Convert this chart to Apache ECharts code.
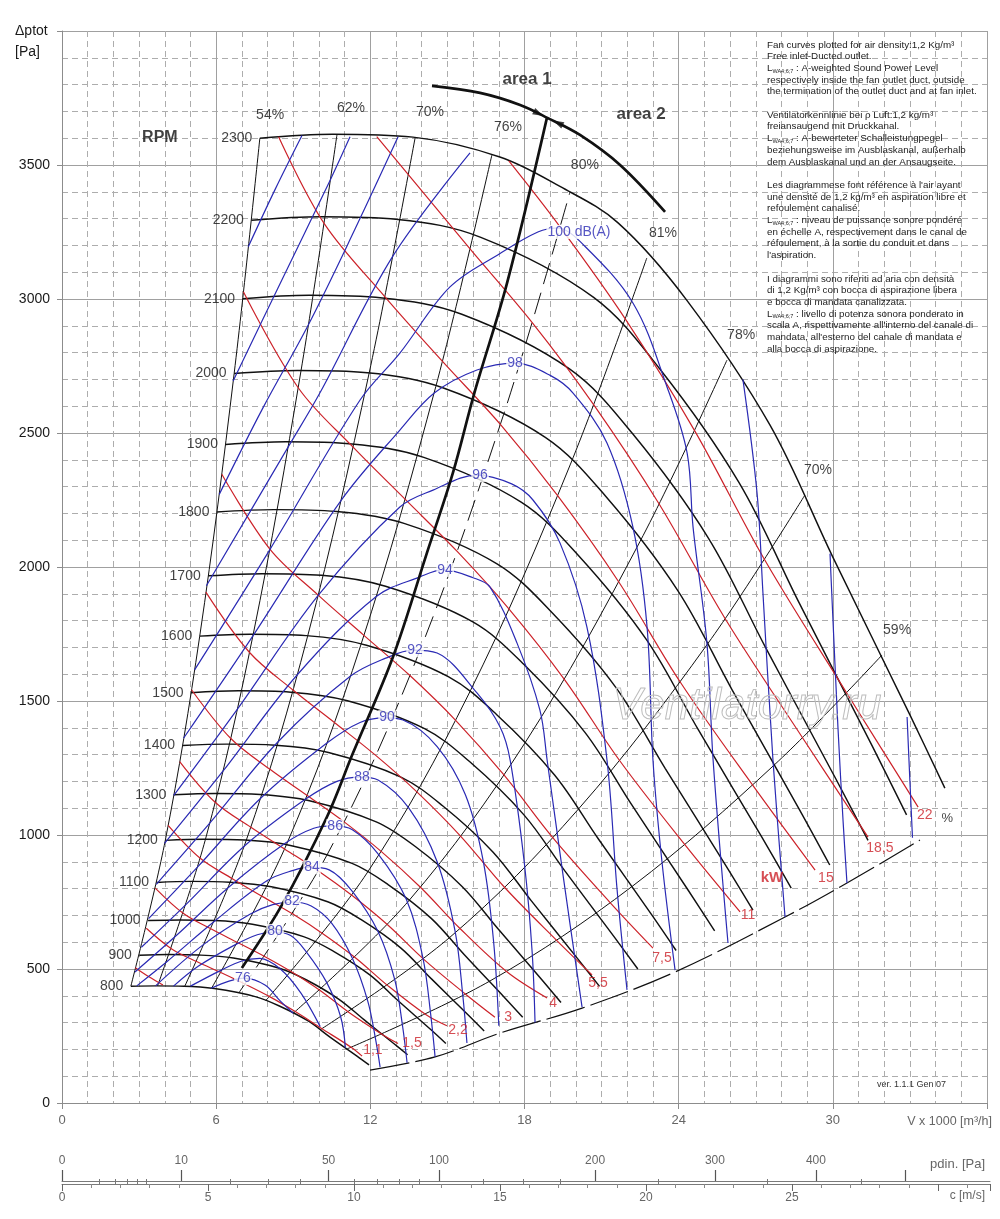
<!DOCTYPE html>
<html><head><meta charset="utf-8">
<script src="https://cdn.jsdelivr.net/npm/echarts@6/dist/echarts.min.js"></script>
<style>html,body{margin:0;padding:0;background:#fff}#c{width:1000px;height:1219px}</style>
</head><body><div id="c"></div><script>
// ---------- axis / scale data ----------
const xTicksMax = 36, yTicksMax = 4000;
const RHO = 1.2;                       // air density for dynamic pressure scale
const C_MAX = 31.78;                   // c [m/s] at right end of bottom scale
const pdynMajor = [0,10,50,100,200,300,400,500];
const pdynLabels = [0,10,50,100,200,300,400];
const pdynMinor = [1,2,3,4,5,20,30,40,60,70,80,90,125,150,175,250,350,450];

// ---------- RPM curves (V x1000 m3/h, Pa) ----------
const rpmNames = [800,900,1000,1100,1200,1300,1400,1500,1600,1700,1800,1900,2000,2100,2200,2300];
const rpm800  = [[2.68,436],[3.67,437],[4.75,436],[5.93,427],[7.52,397],[8.46,362],[9.58,306],[10.43,246],[11.48,175],[11.95,142]];
const rpm900  = [[3.01,551],[4.12,554],[5.35,552],[6.67,541],[8.46,503],[9.52,459],[10.78,387],[11.74,312],[12.91,222],[13.45,180]];
const rpm1000 = [[3.35,681],[4.58,683],[5.94,681],[7.41,667],[9.40,621],[10.57,566],[11.98,478],[13.04,385],[14.35,274],[14.94,222]];
const rpm1100 = [[3.68,823],[5.04,827],[6.53,824],[8.15,807],[10.34,751],[11.63,685],[13.18,579],[14.35,466],[15.78,331],[16.43,269]];
const rpm1200 = [[4.02,980],[5.50,984],[7.13,981],[8.89,961],[11.29,894],[12.69,815],[14.37,689],[15.65,554],[17.22,394],[17.93,320]];
const rpm1300 = [[4.35,1150],[5.96,1155],[7.72,1151],[9.63,1128],[12.23,1049],[13.75,957],[15.57,808],[16.96,651],[18.65,463],[19.42,375]];
const rpm1400 = [[4.69,1334],[6.42,1339],[8.31,1335],[10.37,1308],[13.17,1217],[14.80,1110],[16.77,937],[18.26,755],[20.09,536],[20.92,435]];
const rpm1500 = [[5.02,1531],[6.87,1538],[8.91,1533],[11.11,1501],[14.11,1397],[15.86,1274],[17.97,1076],[19.57,866],[21.52,616],[22.41,500]];
const rpm1600 = [[5.36,1742],[7.33,1749],[9.50,1744],[11.85,1708],[15.05,1590],[16.92,1449],[19.17,1224],[20.87,986],[22.96,701],[23.90,569]];
const rpm1700 = [[5.69,1967],[7.79,1975],[10.10,1969],[12.59,1928],[15.99,1795],[17.98,1636],[20.36,1382],[22.17,1113],[24.39,791],[25.40,642]];
const rpm1800 = [[6.03,2205],[8.25,2214],[10.69,2207],[13.34,2162],[16.93,2012],[19.03,1834],[21.56,1550],[23.48,1248],[25.83,887],[26.89,720]];
const rpm1900 = [[6.36,2457],[8.71,2467],[11.28,2459],[14.08,2409],[17.87,2242],[20.09,2044],[22.76,1727],[24.78,1390],[27.26,988],[28.38,802]];
const rpm2000 = [[6.70,2722],[9.17,2733],[11.88,2725],[14.82,2669],[18.81,2484],[21.15,2265],[23.96,1913],[26.09,1540],[28.70,1095],[29.88,888]];
const rpm2100 = [[7.03,3001],[9.62,3014],[12.47,3004],[15.56,2943],[19.75,2739],[22.21,2497],[25.15,2109],[27.39,1698],[30.13,1207],[31.37,980]];
const rpm2200 = [[7.37,3294],[10.08,3307],[13.07,3297],[16.30,3230],[20.69,3006],[23.26,2740],[26.35,2315],[28.70,1864],[31.57,1325],[32.87,1075]];
const rpm2300 = [[7.70,3600],[10.54,3615],[13.66,3604],[17.04,3530],[19.38,3420],[21.63,3285],[24.32,2995],[27.55,2530],[30.0,2037],[33.0,1448],[34.36,1175]];

// ---------- efficiency parabolas ----------
const eff54  = [[2.68,436],[4.02,980],[5.36,1742],[6.70,2722],[7.70,3600]];
const eff62  = [[3.72,437],[5.58,983],[7.44,1748],[9.30,2731],[10.70,3612]];
const eff70a = [[4.78,436],[7.17,980],[9.56,1742],[11.95,2722],[13.74,3600]];
const eff76  = [[5.82,428],[8.73,963],[11.64,1712],[14.55,2674],[16.73,3537]];
const eff80  = [[6.88,411],[10.31,925],[13.75,1645],[17.19,2570],[19.77,3399]];
const eff81  = [[7.92,381],[11.87,858],[15.83,1526],[19.79,2384],[22.76,3153]];
const eff78  = [[9.00,335],[13.50,755],[18.00,1341],[22.50,2096],[25.88,2772]];
const eff70b = [[10.06,274],[15.08,617],[20.11,1098],[25.14,1715],[28.91,2268]];
const eff59  = [[11.10,202],[16.65,455],[22.20,809],[27.75,1264],[31.91,1671]];

// ---------- area boundary, arc, max-flow boundary ----------
const areaLine = [[7.0,504],[8.56,739],[10.31,1067],[11.3,1300],[12.88,1664],[14.2,2052],[15.21,2350],[16.05,2650],[17.32,3059],[18.87,3675]];
const areaArc  = [[14.40,3795],[16.27,3769],[17.83,3724],[18.91,3675],[20.16,3612],[21.72,3500],[23.47,3325]];
const maxFlow  = [[11.99,123],[14.52,172],[17.05,261],[20.24,354],[23.86,489],[28.14,694],[30.55,821],[33.39,981]];

// ---------- power lines (kW) ----------
const kw075 = [[2.85,505],[3.4,470],[3.93,440]];
const kw11  = [[3.28,652],[4.27,575],[5.26,527],[6.20,486],[7.14,443],[8.08,397],[9.08,341],[10.07,280],[11.25,208],[11.68,175]];
const kw15  = [[3.63,802],[4.73,707],[5.83,648],[6.87,597],[7.92,545],[8.96,488],[10.06,419],[11.17,338],[12.48,255],[13.08,222]];
const kw22  = [[4.13,1036],[5.38,913],[6.63,837],[7.81,770],[9.00,704],[10.18,630],[11.43,541],[12.69,437],[14.17,329],[14.98,288]];
const kw3   = [[4.58,1274],[5.96,1122],[7.35,1029],[8.66,948],[9.98,866],[11.28,775],[12.67,665],[14.07,537],[15.72,405],[16.85,320]];
const kw4   = [[5.04,1542],[6.57,1360],[8.08,1246],[9.53,1148],[10.98,1049],[12.42,939],[13.95,805],[15.49,651],[17.30,491],[18.88,392]];
const kw55  = [[5.60,1906],[7.30,1681],[8.99,1541],[10.60,1420],[12.21,1297],[13.81,1161],[15.51,996],[17.22,805],[19.24,608],[20.63,478]];
const kw75  = [[6.22,2346],[8.09,2067],[9.97,1895],[11.75,1745],[13.54,1595],[15.32,1428],[17.20,1224],[19.10,990],[21.34,747],[23.0,578]];
const kw110 = [[7.06,3027],[9.20,2668],[11.33,2447],[13.35,2253],[15.38,2058],[17.40,1843],[19.55,1581],[21.70,1278],[24.24,964],[26.39,713]];
const kw150 = [[8.43,3605],[10.20,3282],[12.56,3009],[14.80,2768],[17.06,2532],[19.29,2266],[21.67,1944],[24.06,1571],[26.88,1186],[29.31,869]];
const kw185 = [[12.25,3606],[15.88,3187],[18.30,2912],[20.69,2606],[23.24,2235],[25.81,1807],[28.82,1363],[31.37,992]];
const kw220 = [[17.39,3515],[19.39,3268],[21.92,2926],[24.62,2509],[27.34,2028],[30.54,1530],[33.32,1104]];

// ---------- sound power curves dB(A) ----------
const db76  = [[5.8,428],[6.5,455],[7.1,466],[7.9,440],[8.5,380],[9.0,335]];
const db78  = [[5.0,436],[6.18,495],[7.0,530],[7.7,540],[8.5,500],[9.3,410],[10.05,285]];
const db80  = [[4.34,436],[5.3,510],[6.73,590],[7.6,628],[8.21,638],[8.9,625],[9.5,565],[10.3,450],[10.85,320],[11.03,206]];
const db82  = [[3.64,437],[5.49,590],[7.33,705],[8.2,740],[8.95,750],[9.7,735],[10.5,670],[11.3,540],[11.9,380],[12.2,240],[12.38,134]];
const db84  = [[2.91,437],[4.09,528],[5.97,681],[7.99,830],[9.0,868],[9.65,880],[10.4,870],[11.3,790],[12.3,640],[12.95,460],[13.25,290],[13.43,150]];
const db86  = [[2.84,489],[4.46,626],[6.51,807],[8.70,970],[9.8,1025],[10.55,1034],[11.3,1020],[12.3,930],[13.4,760],[14.05,540],[14.35,330],[14.52,172]];
const db88  = [[3.09,581],[4.85,743],[7.09,958],[9.47,1133],[10.7,1200],[11.6,1216],[12.3,1205],[13.5,1100],[14.6,900],[15.3,640],[15.6,400],[15.76,224]];
const db90  = [[3.37,688],[5.28,881],[7.72,1136],[10.31,1343],[11.6,1420],[12.57,1437],[13.27,1429],[14.6,1330],[15.7,1150],[16.4,900],[16.8,600],[17.0,288]];
const db92  = [[3.67,816],[5.75,1044],[8.40,1347],[11.23,1593],[12.6,1660],[13.66,1690],[14.6,1679],[16.15,1530],[17.05,1403],[17.44,1280],[18.0,890],[18.3,560],[18.41,300]];
const db94  = [[3.99,969],[6.27,1239],[9.15,1597],[12.23,1890],[13.93,1963],[14.83,1989],[16.0,1960],[16.66,1925],[17.71,1716],[18.6,1466],[18.88,1280],[19.5,850],[20.24,358]];
const db96  = [[4.35,1148],[6.82,1469],[9.97,1894],[13.15,2224],[14.44,2287],[16.15,2343],[17.5,2310],[18.33,2250],[19.38,2090],[20.43,1776],[21.21,1280],[21.6,800],[21.99,422]];
const db98  = [[4.73,1361],[7.43,1743],[10.85,2247],[13.15,2511],[14.5,2650],[16.15,2735],[17.63,2761],[19.0,2715],[19.89,2649],[21.21,2463],[22.22,2149],[22.77,1776],[23.0,1280],[23.35,900],[23.86,496]];
const db100 = [[5.16,1616],[8.09,2065],[11.6,2623],[13.15,2798],[15.1,3045],[17.05,3170],[18.52,3250],[19.3,3265],[20.16,3215],[22.22,2985],[23.55,2671],[24.33,2425],[24.56,2149],[25.1,1716],[25.34,1280],[25.92,597]];
const db102L = [[5.62,1930],[8.81,2449],[10.04,2650],[12.87,3159],[15.88,3545]];
const db102R = [[26.5,2700],[27.05,2276],[27.28,1903],[27.67,1280],[28.14,694]];
const db104L = [[6.12,2271],[7.8,2590],[9.60,2906],[11.4,3260],[13.08,3605]];
const db104R = [[29.89,2050],[29.97,1877],[30.2,1400],[30.4,1050],[30.55,821]];
const db106L = [[6.66,2694],[8.5,3060],[10.45,3446],[11.21,3605]];
const db106R = [[32.89,1440],[33.0,1200],[33.1,990]];
const db108L = [[7.25,3195],[8.3,3410],[9.34,3610]];

// ---------- labels ----------
const rpmLabelPts = [[2.68,436],[3.01,551],[3.35,681],[3.68,823],[4.02,980],[4.35,1150],[4.69,1334],[5.02,1531],[5.36,1742],[5.69,1967],[6.03,2205],[6.36,2457],[6.70,2722],[7.03,3001],[7.37,3294],[7.70,3600]];
const effLabels = [[8.1,3686,'54%'],[11.25,3713,'62%'],[14.32,3698,'70%'],[17.36,3642,'76%'],[20.35,3500,'80%'],[23.39,3246,'81%'],[26.43,2866,'78%'],[29.42,2362,'70%'],[32.5,1765,'59%']];
const kwLabels = [[12.1,198,'1,1'],[13.62,224,'1,5'],[15.41,272,'2,2'],[17.36,321,'3'],[19.11,373,'4'],[20.86,448,'5,5'],[23.35,541,'7,5'],[26.7,701,'11'],[29.73,839,'15'],[31.83,951,'18,5'],[33.58,1074,'22']];
const dbLabels = [[7.04,466,'76'],[8.29,642,'80'],[8.95,754,'82'],[9.73,880,'84'],[10.63,1033,'86'],[11.68,1216,'88'],[12.65,1440,'90'],[13.74,1690,'92'],[14.91,1989,'94'],[16.27,2343,'96'],[17.63,2761,'98'],[20.12,3250,'100 dB(A)']];

const noteLines = [
'Fan curves plotted for air density:1,2 Kg/m³',
'Free inlet-Ducted outlet.',
'L{s|WA4;6;7} : A-weighted Sound Power Level',
'respectively inside the fan outlet duct, outside',
'the termination of the outlet duct and at fan inlet.',
'',
'Ventilatorkennlinie bei ρ Luft:1,2 kg/m³',
'freiansaugend mit Druckkanal.',
'L{s|WA4;6;7} : A-bewerteter Schalleistungpegel',
'beziehungsweise im Ausblaskanal, außerhalb',
'dem Ausblaskanal und an der Ansaugseite.',
'',
'Les diagrammese font référence à l\'air ayant',
'une densité de 1,2 kg/m³ en aspiration libre et',
'refoulement canalisé.',
'L{s|WA4;6;7} : niveau de puissance sonore pondéré',
'en échelle A, respectivement dans le canal de',
'réfoulement, à la sortie du conduit et dans',
'l\'aspiration.',
'',
'I diagrammi sono riferiti ad aria con densità',
'di 1,2 Kg/m³ con bocca di aspirazione libera',
'e bocca di mandata canalizzata.',
'L{s|WA4;6;7} : livello di potenza sonora ponderato in',
'scala A, rispettivamente all\'interno del canale di',
'mandata, all\'esterno del canale di mandata e',
'alla bocca di aspirazione.'
];

// ---------- build ----------
const FONT = '"Liberation Sans", Arial, Helvetica, sans-serif';
const BLACK = '#111111', RED = '#cc2229', BLUE = '#2a2ab4';
const series = [];
function addLine(data, color, width, dash, z) {
  series.push({type:'line', data, xAxisIndex:0, yAxisIndex:0, symbol:'none', showSymbol:false,
    smooth:0.35, silent:true, animation:false, z: z || 2,
    lineStyle:{color, width, type: dash || 'solid'}});
}
function addLabels(items, color, size, opt) {
  opt = opt || {};
  series.push({type:'scatter', data: items, xAxisIndex:0, yAxisIndex:0, symbolSize:1,
    encode:{x:0, y:1}, itemStyle:{color:'rgba(0,0,0,0)'}, silent:true, animation:false, z: 20,
    label:{show:true, position: opt.position || 'inside', distance: opt.distance || 0,
      formatter: p => p.data[2], color, fontSize: size, fontWeight: opt.weight || 'normal',
      fontFamily: FONT, backgroundColor: opt.bg || 'transparent', padding: opt.bg ? [0,1] : 0}});
}

[rpm800,rpm900,rpm1000,rpm1100,rpm1200,rpm1300,rpm1400,rpm1500,rpm1600,rpm1700,rpm1800,rpm1900,rpm2000,rpm2100,rpm2200,rpm2300]
  .forEach(d => addLine(d, BLACK, 1.45, 'solid', 3));
[eff54,eff62,eff70a,eff76,eff81,eff78,eff70b,eff59].forEach(d => addLine(d, BLACK, 1.0, 'solid', 3));
addLine(eff80, BLACK, 1.0, [22,9], 3);
addLine(maxFlow, BLACK, 1.2, [40,6], 3);
[kw075,kw11,kw15,kw22,kw3,kw4,kw55,kw75,kw110,kw150,kw185,kw220].forEach(d => addLine(d, RED, 1.2, 'solid', 4));
[db76,db78,db80,db82,db84,db86,db88,db90,db92,db94,db96,db98,db100,db102L,db102R,db104L,db104R,db106L,db106R,db108L]
  .forEach(d => addLine(d, BLUE, 1.2, 'solid', 5));
addLine(areaLine, BLACK, 2.7, 'solid', 6);
addLine(areaArc, BLACK, 2.7, 'solid', 6);
// arrowheads on the arc
series.push({type:'scatter', xAxisIndex:0, yAxisIndex:0, silent:true, animation:false, z:7,
  data:[{value:[18.55,3692], symbolRotate:-116}, {value:[19.3,3657], symbolRotate:64}],
  symbol:'triangle', symbolSize:[7,11], itemStyle:{color:BLACK}});

addLabels(rpmLabelPts.map((p,i) => [p[0], p[1], String(rpmNames[i])]), '#111', 14, {position:'left', distance:7});
addLabels(effLabels, '#111', 14);
addLabels(kwLabels, RED, 14);
addLabels([[27.63,839,'kW']], RED, 15, {weight:'bold'});
addLabels([[34.45,1063,'%']], '#111', 13);
addLabels(dbLabels, BLUE, 14, {bg:'#ffffff'});
addLabels([[3.81,3604,'RPM']], '#111', 16, {weight:'bold'});
addLabels([[18.1,3818,'area 1'],[22.54,3690,'area 2']], '#111', 17, {weight:'bold'});

const cOf = p => Math.sqrt(2 * p / RHO);
const pdynText = v => { const hit = pdynLabels.find(p => Math.abs(cOf(p) - v) < 1e-6); return hit === undefined ? '' : String(hit); };

const gridLineMajor = {show:true, lineStyle:{color:'#a0a0a0', width:1}};
const gridLineMinor = {show:true, lineStyle:{color:'#adadad', width:1, type:[6,4]}};

const option = {
  backgroundColor:'#ffffff',
  animation:false,
  grid:[
    {left:62, right:13, top:31, bottom:116},
    {left:62, width:928, top:1181, height:3},
    {left:62, width:928, top:1181, height:3}
  ],
  xAxis:[
    {gridIndex:0, type:'value', min:0, max:xTicksMax, interval:6,
     axisLine:{show:true, onZero:false, lineStyle:{color:'#8c8c8c'}},
     axisTick:{show:true, length:6, lineStyle:{color:'#8c8c8c'}},
     axisLabel:{color:'#666', fontSize:13, margin:11, fontFamily:FONT, formatter: v => v === xTicksMax ? '' : String(v)},
     splitLine:gridLineMajor, minorTick:{show:false, splitNumber:6}, minorSplitLine:gridLineMinor},
    {gridIndex:1, type:'value', position:'top', min:0, max:C_MAX,
     axisLine:{show:true, onZero:false, lineStyle:{color:'#7a7a7a'}},
     axisTick:{show:true, length:11, customValues: pdynMajor.map(cOf), lineStyle:{color:'#555', width:1.2}},
     axisLabel:{show:true, customValues: pdynLabels.map(cOf), formatter: pdynText, margin:14, color:'#666', fontSize:12, fontFamily:FONT},
     splitLine:{show:false}},
    {gridIndex:1, type:'value', position:'bottom', min:0, max:C_MAX, interval:5,
     axisLine:{show:true, onZero:false, lineStyle:{color:'#7a7a7a'}},
     axisTick:{show:true, length:7, lineStyle:{color:'#666'}},
     minorTick:{show:true, splitNumber:5, length:4, lineStyle:{color:'#888'}},
     axisLabel:{margin:8, color:'#666', fontSize:12, fontFamily:FONT, showMaxLabel:false, formatter: v => v > 25 ? '' : String(v)},
     splitLine:{show:false}},
    {gridIndex:2, type:'value', position:'top', min:0, max:C_MAX,
     axisLine:{show:false},
     axisTick:{show:true, length:5, customValues: pdynMinor.map(cOf), lineStyle:{color:'#777'}},
     axisLabel:{show:false}, splitLine:{show:false}}
  ],
  yAxis:[
    {gridIndex:0, type:'value', min:0, max:yTicksMax, interval:500,
     axisLine:{show:true, onZero:false, lineStyle:{color:'#8c8c8c'}},
     axisTick:{show:true, length:5, lineStyle:{color:'#8c8c8c'}},
     axisLabel:{color:'#1a1a1a', fontSize:14, margin:12, fontFamily:FONT, formatter: v => v === yTicksMax ? '' : String(v)},
     splitLine:gridLineMajor, minorTick:{show:false, splitNumber:5}, minorSplitLine:gridLineMinor},
    {gridIndex:1, type:'value', show:false, min:0, max:1},
    {gridIndex:2, type:'value', show:false, min:0, max:1}
  ],
  graphic:[
    {type:'text', left:15, top:21, style:{text:'Δptot\n[Pa]', font:'14px ' + FONT, fill:'#1a1a1a', lineHeight:21}},
    {type:'text', right:8, top:1115, style:{text:'V x 1000 [m³/h]', font:'12.5px ' + FONT, fill:'#666'}},
    {type:'text', right:15, top:1158, style:{text:'pdin. [Pa]', font:'13px ' + FONT, fill:'#666'}},
    {type:'text', right:15, top:1190, style:{text:'c [m/s]', font:'12px ' + FONT, fill:'#666'}},
    {type:'text', left:877, top:1080, style:{text:'ver. 1.1.1 Gen 07', font:'9px ' + FONT, fill:'#333'}},
    {type:'text', left:767, top:39, z:30, style:{text: noteLines.join('\n'), font:'9.8px ' + FONT, fill:'#222', lineHeight:11.7,
      rich:{s:{fontSize:5.5, fontFamily:FONT, fill:'#222', lineHeight:11.7, verticalAlign:'bottom'}}}},
    {type:'text', left:612, top:684, z:30, style:{text:'Ventilatorry.ru', font:'italic 44px ' + FONT, fill:'rgba(255,255,255,0)', stroke:'#bdbdbd', lineWidth:1}}
  ],
  series
};
const chart = echarts.init(document.getElementById('c'), null, {renderer:'canvas'});
chart.setOption(option);
</script></body></html>
